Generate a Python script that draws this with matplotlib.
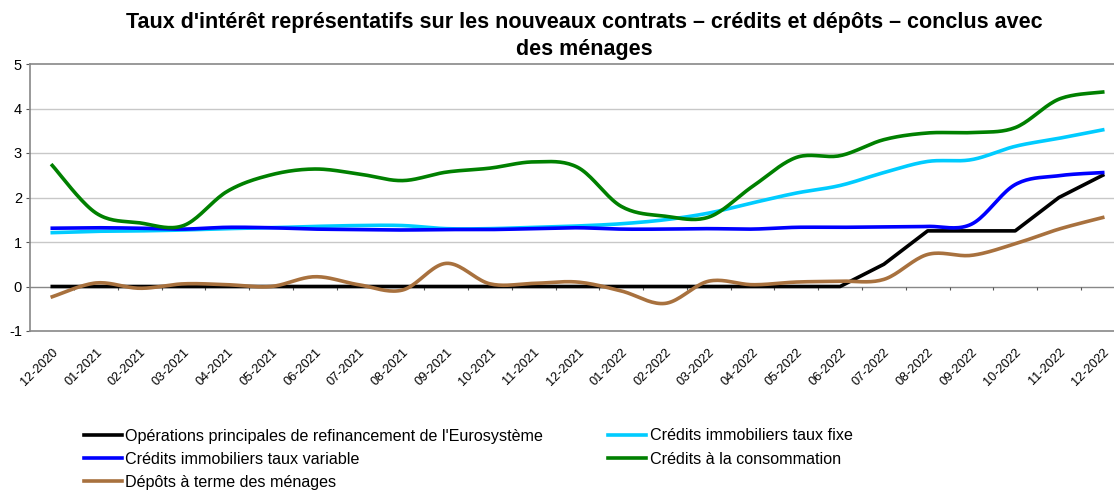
import matplotlib.pyplot as plt
import numpy as np

# ============================================================================#
plt.rcParams["font.family"] = ["Liberation Sans", "DejaVu Sans"]
plt.rcParams["axes.unicode_minus"] = False

months = [
    "12-2020", "01-2021", "02-2021", "03-2021", "04-2021", "05-2021", "06-2021",
    "07-2021", "08-2021", "09-2021", "10-2021", "11-2021", "12-2021", "01-2022",
    "02-2022", "03-2022", "04-2022", "05-2022", "06-2022", "07-2022", "08-2022",
    "09-2022", "10-2022", "11-2022", "12-2022",
]

refi = [0, 0, 0, 0, 0, 0, 0, 0, 0, 0, 0, 0, 0, 0, 0, 0, 0, 0, 0,
        0.5, 1.25, 1.25, 1.25, 2.0, 2.5]
immo_fixe = [1.21, 1.24, 1.25, 1.27, 1.30, 1.32, 1.35, 1.37, 1.37, 1.30, 1.30,
             1.33, 1.36, 1.41, 1.50, 1.65, 1.88, 2.10, 2.27, 2.56, 2.81, 2.85,
             3.15, 3.33, 3.52]
immo_var = [1.31, 1.32, 1.31, 1.29, 1.33, 1.32, 1.29, 1.28, 1.27, 1.28, 1.28,
            1.30, 1.32, 1.29, 1.29, 1.30, 1.29, 1.33, 1.33, 1.34, 1.35, 1.40,
            2.29, 2.49, 2.56]
conso = [2.72, 1.65, 1.43, 1.37, 2.14, 2.51, 2.64, 2.53, 2.38, 2.57, 2.66,
         2.80, 2.68, 1.80, 1.58, 1.56, 2.25, 2.90, 2.94, 3.30, 3.45, 3.46,
         3.57, 4.21, 4.37]
depots = [-0.23, 0.08, -0.04, 0.06, 0.04, 0.0, 0.22, 0.04, -0.08, 0.52, 0.06,
          0.07, 0.10, -0.10, -0.38, 0.12, 0.04, 0.10, 0.12, 0.16, 0.72, 0.70,
          0.96, 1.29, 1.55]

labels = [
    "Opérations principales de refinancement de l'Eurosystème",
    "Crédits immobiliers taux fixe",
    "Crédits immobiliers taux variable",
    "Crédits à la consommation",
    "Dépôts à terme des ménages",
]
colors = ["#000000", "#00CCFF", "#0000FF", "#008000", "#A8713E"]


def smooth(y, n=20):
    """Excel-like smoothed line (Catmull-Rom bezier through the points)"""
    y = np.asarray(y, dtype=float)
    x = np.arange(len(y), dtype=float)
    xp = np.concatenate([[x[0]], x, [x[-1]]])
    yp = np.concatenate([[y[0]], y, [y[-1]]])
    t = np.linspace(0, 1, n, endpoint=False)[:, None]
    xs, ys = [], []
    for i in range(len(y) - 1):
        p0 = np.array([x[i], y[i]])
        p3 = np.array([x[i + 1], y[i + 1]])
        p1 = p0 + (np.array([xp[i + 2], yp[i + 2]]) - np.array([xp[i], yp[i]])) / 6
        p2 = p3 - (np.array([xp[i + 3], yp[i + 3]]) - np.array([xp[i + 1], yp[i + 1]])) / 6
        b = ((1 - t) ** 3) * p0 + 3 * ((1 - t) ** 2) * t * p1 + 3 * (1 - t) * t**2 * p2 + t**3 * p3
        xs.append(b[:, 0])
        ys.append(b[:, 1])
    xs.append([x[-1]])
    ys.append([y[-1]])
    return np.concatenate(xs), np.concatenate(ys)


fig = plt.figure(figsize=(11.14, 4.93), dpi=100)
ax = fig.add_axes([30.4 / 1114, 162 / 493, 1094.2 / 1114, 267 / 493])

ax.set_xlim(-0.5, len(months) - 0.5)
ax.set_ylim(-1, 5)
ax.set_yticks(range(-1, 6))
for yv in range(1, 5):
    ax.axhline(yv, color="#C8C8C8", linewidth=1, zorder=0)

# x axis crossing at 0 with tick marks between categories
ax.axhline(0, color="#888888", linewidth=1, zorder=1)
ax.vlines(np.arange(len(months) - 1) + 0.5, -0.07, 0, color="#555555", linewidth=0.8, zorder=1)

series = [refi, immo_fixe, immo_var, conso, depots]
handles = []
for k, (vals, lab, col) in enumerate(zip(series, labels, colors)):
    if k == 0:
        (h,) = ax.plot(np.arange(len(vals)), vals, color=col, linewidth=2.6, label=lab, zorder=3)
    else:
        xs, ys = smooth(vals)
        (h,) = ax.plot(xs, ys, color=col, linewidth=2.6, label=lab, zorder=3 + k)
    handles.append(h)

ax.set_xticks(np.arange(len(months)))
ax.set_xticklabels(months, rotation=45, ha="right", rotation_mode="anchor", fontsize=9.2)
ax.tick_params(axis="x", length=0, pad=11)
ax.tick_params(axis="y", length=3, direction="out", labelsize=10.5, color="#555555", pad=3)

for side in ["left", "top", "bottom"]:
    ax.spines[side].set_color("#888888")
    ax.spines[side].set_linewidth(1.2)
ax.spines["right"].set_visible(False)

fig.text(
    584 / 1114, 1 - 12 / 493,
    "Taux d'intérêt représentatifs sur les nouveaux contrats – crédits et dépôts – conclus avec\ndes ménages",
    ha="center", va="top", fontsize=15.5, fontweight="bold", linespacing=1.4,
)

order = [0, 2, 4, 1, 3]
fig.legend(
    [handles[i] for i in order],
    [labels[i] for i in order],
    loc="upper left",
    bbox_to_anchor=(69 / 1114, 1 - 414 / 493),
    ncol=2,
    frameon=False,
    handlelength=2.4,
    handletextpad=0.2,
    columnspacing=4.0,
    labelspacing=0.5,
    prop={"size": 11.6},
)

fig.savefig("out.png", dpi=100)
